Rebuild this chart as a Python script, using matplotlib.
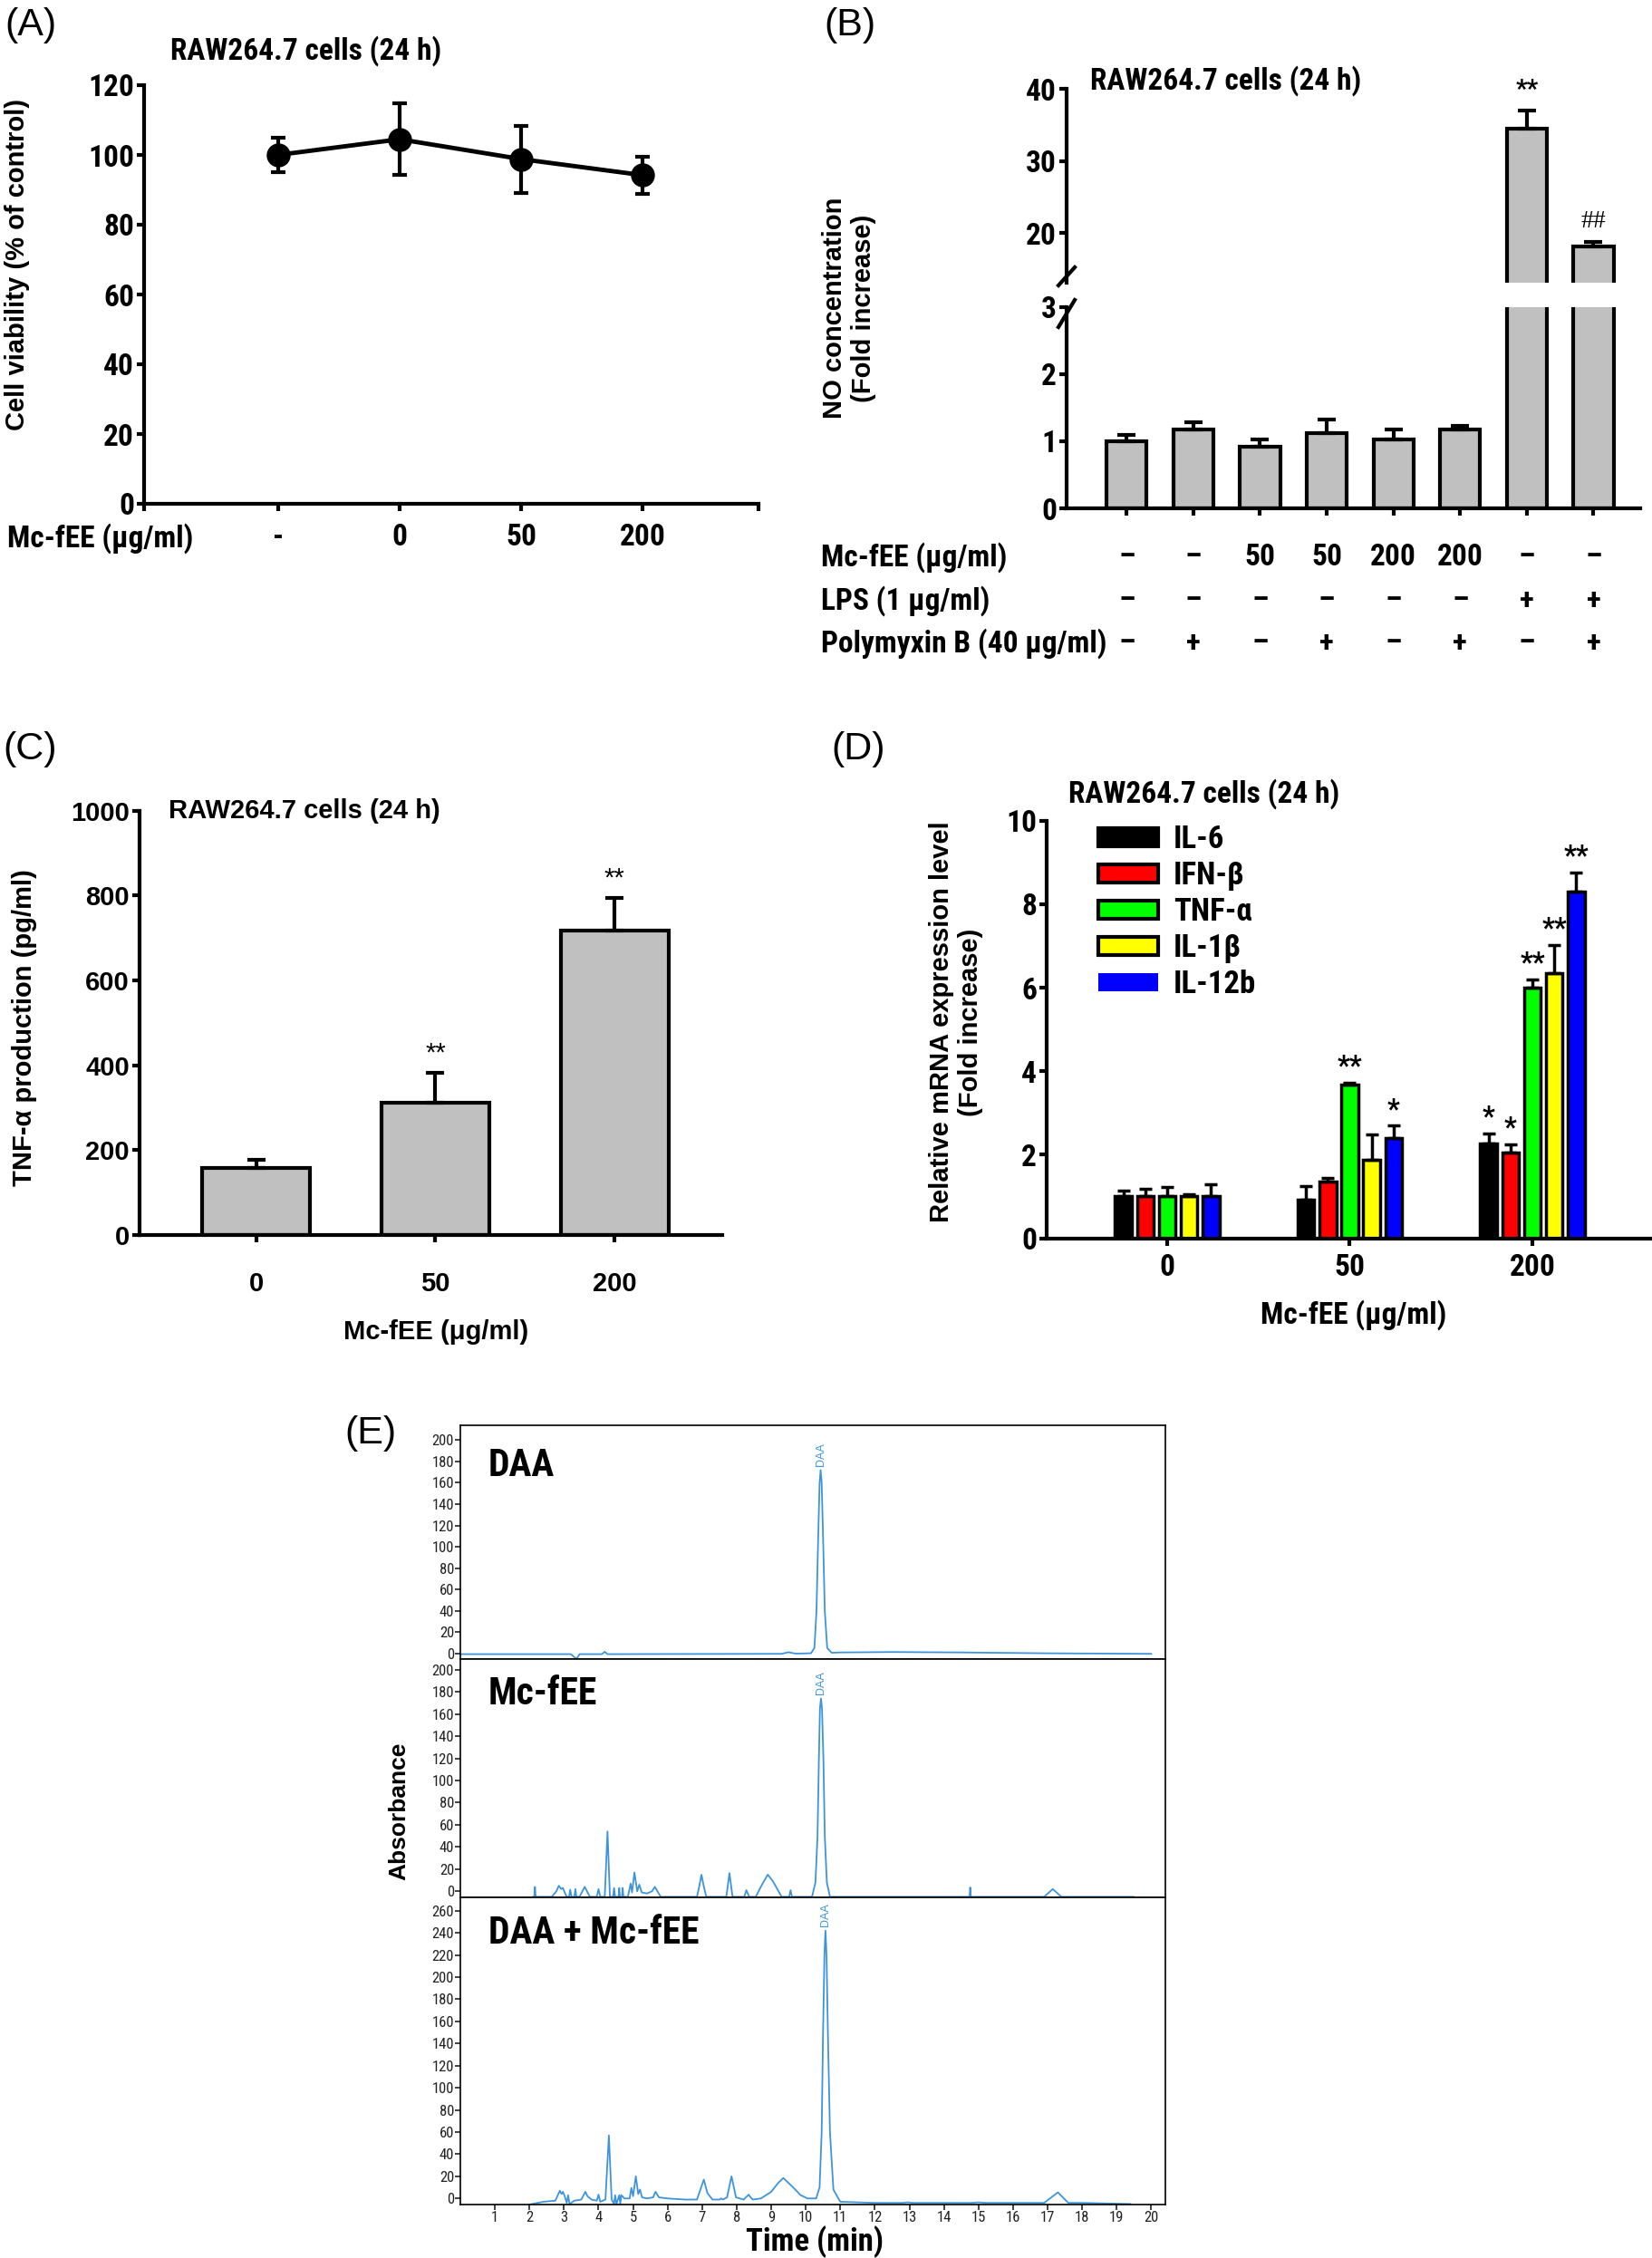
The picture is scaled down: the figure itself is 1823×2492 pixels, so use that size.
import numpy as np
import matplotlib
matplotlib.use("Agg")
import matplotlib.pyplot as plt
from matplotlib.patches import Patch
from matplotlib.lines import Line2D

W, H = 1824, 2492
NARROW = ['Roboto Condensed', 'DejaVu Sans']
ARIAL = ['Liberation Sans', 'DejaVu Sans']
SERIF = ['Liberation Serif', 'DejaVu Serif']

plt.rcParams['font.family'] = NARROW
plt.rcParams['font.weight'] = 'bold'

# (A) cell viability
a_labels = ['-', '0', '50', '200']
a_mean = [100.0, 104.5, 98.8, 94.2]
a_err = [5.0, 10.2, 9.6, 5.4]

# (B) NO production
b_mean = [1.0, 1.17, 0.92, 1.12, 1.03, 1.17, 34.5, 18.2]
b_err = [0.09, 0.11, 0.10, 0.20, 0.14, 0.06, 2.6, 0.6]
b_rows = ['Mc-fEE (μg/ml)', 'LPS (1 μg/ml)', 'Polymyxin B (40 μg/ml)']
b_mcfee = ['–', '–', '50', '50', '200', '200', '–', '–']
b_lps = ['–', '–', '–', '–', '–', '–', '+', '+']
b_pmb = ['–', '+', '–', '+', '–', '+', '–', '+']
b_marks = ['', '', '', '', '', '', '**', '##']

# (C) TNF-a production
c_labels = ['0', '50', '200']
c_mean = [158, 312, 718]
c_err = [20, 71, 77]
c_marks = ['', '**', '**']

# (D) mRNA expression
d_labels = ['0', '50', '200']
d_genes = ['IL-6', 'IFN-β', 'TNF-α', 'IL-1β', 'IL-12b']
d_colors = ['#000000', '#ff0000', '#00ff00', '#ffff00', '#0000ff']
d_mean = [[1.0, 0.92, 2.27], [1.0, 1.36, 2.05], [1.0, 3.67, 6.01],
          [1.0, 1.88, 6.35], [1.0, 2.40, 8.29]]
d_err = [[0.13, 0.32, 0.24], [0.19, 0.08, 0.20], [0.22, 0.06, 0.19],
         [0.06, 0.61, 0.68], [0.30, 0.30, 0.47]]
d_marks = [['', '', '*'], ['', '', '*'], ['', '**', '**'],
           ['', '', '**'], ['', '*', '**']]

# (E) HPLC traces, (time min, absorbance) vertices
e_names = ['DAA', 'Mc-fEE', 'DAA + Mc-fEE']
e1_trace = [(0.0, -0.8), (3.20, -0.8), (3.33, -4.5), (3.37, -5.0), (3.45, -0.8), (4.10, -0.8),
            (4.18, 1.5), (4.26, -0.8), (9.30, -0.5), (9.50, 1.0), (9.70, -0.3), (10.15, 0.0),
            (10.25, 5), (10.31, 40), (10.36, 110), (10.40, 160), (10.43, 172), (10.46, 160),
            (10.50, 110), (10.55, 40), (10.62, 5), (10.75, 0.5), (11.0, 0.8), (12.5, 1.2),
            (14.5, 0.8), (17.0, 0.0), (20.0, -0.5)]
e2_trace = [(2.10, -5), (2.14, -5), (2.16, 4), (2.18, -5),
            (2.65, -5), (2.78, 0), (2.85, 5), (2.92, 2), (2.97, 3), (3.02, -1), (3.08, -5),
            (3.15, -5), (3.18, 1.5), (3.22, -5), (3.30, -5), (3.33, 2), (3.36, -5),
            (3.45, -5), (3.60, 4), (3.75, -5), (3.95, -5), (4.00, 2), (4.05, -5),
            (4.18, -5), (4.26, 54), (4.33, -5),
            (4.42, -5), (4.45, 3), (4.48, -5), (4.58, -5), (4.60, 3), (4.62, -5), (4.68, -5), (4.70, 3), (4.72, -5),
            (4.85, -5), (4.93, 7), (4.97, -1), (5.04, 17), (5.12, 0), (5.18, 6), (5.25, -1), (5.40, -2),
            (5.55, 0), (5.63, 4), (5.80, -5),
            (6.85, -5), (6.92, 5), (6.98, 15), (7.05, 4), (7.12, -5),
            (7.70, -5), (7.79, 16.5), (7.88, -5),
            (8.22, -5), (8.28, 1), (8.36, -5),
            (8.55, -5), (8.75, 7), (8.90, 15), (9.05, 9), (9.30, -5),
            (9.52, -5), (9.56, 1), (9.60, -5),
            (10.18, -5), (10.28, 8), (10.34, 50), (10.38, 120), (10.41, 165), (10.44, 174), (10.47, 165),
            (10.51, 120), (10.55, 50), (10.61, 8), (10.70, -5),
            (14.74, -5), (14.76, 3.5), (14.78, -5),
            (16.90, -5), (17.15, 2), (17.40, -5), (19.50, -5)]
e3_trace = [(2.00, -5.5), (2.40, -3), (2.75, -2), (2.88, 7), (2.93, 4), (2.97, 6), (3.02, 2), (3.08, -4),
            (3.12, 3), (3.16, -5), (3.30, -2), (3.50, -1), (3.62, 6), (3.68, 2), (3.80, -1), (3.95, -2),
            (4.00, 3.5), (4.05, -3), (4.20, -1), (4.30, 57), (4.38, -1), (4.45, -5), (4.48, 3), (4.52, -5),
            (4.60, 3), (4.63, -5), (4.66, 3), (4.75, 0), (4.90, 0), (4.95, 9.5), (5.00, 2), (5.08, 20),
            (5.15, 4), (5.20, 8), (5.26, 1), (5.40, 0), (5.58, 1), (5.65, 6), (5.75, 1), (6.00, 0),
            (6.50, -1), (6.85, -1), (6.97, 10), (7.05, 17), (7.15, 5), (7.30, -1), (7.50, -1), (7.55, 0),
            (7.60, -1), (7.72, 1), (7.85, 20), (7.98, 1), (8.20, -1), (8.35, 3.5), (8.40, 1), (8.47, -1),
            (8.70, 0), (9.00, 6), (9.20, 14), (9.35, 18.5), (9.50, 14), (9.65, 9.5), (9.85, 3), (10.05, 0),
            (10.30, 0), (10.40, 10), (10.46, 60), (10.50, 150), (10.54, 220), (10.57, 242), (10.60, 220),
            (10.64, 150), (10.70, 60), (10.80, 8), (11.00, -3), (12.00, -4), (12.80, -4), (12.95, -3.5),
            (13.10, -4), (14.80, -4), (15.00, -3.5), (15.20, -4), (16.90, -4), (17.30, 5.5), (17.60, -4),
            (18.00, -4), (19.40, -5)]

fig = plt.figure(figsize=(W / 100, H / 100), dpi=100)


def axes_px(x0, y0, x1, y1):
    return fig.add_axes([x0 / W, 1 - y1 / H, (x1 - x0) / W, (y1 - y0) / H])


def ftext(x, y, s, **kw):
    return fig.text(x / W, 1 - y / H, s, **kw)


def style(ax, lw=3, fs=24, fam=NARROW):
    for s in ['top', 'right']:
        ax.spines[s].set_visible(False)
    for s in ['left', 'bottom']:
        ax.spines[s].set_linewidth(lw)
    ax.tick_params(width=lw, length=6, direction='out', labelsize=fs)
    ax.tick_params(axis='y', pad=2)
    for lab in ax.get_xticklabels() + ax.get_yticklabels():
        lab.set_family(fam)
        lab.set_weight('bold')


# ---------------- (A)
ftext(5, 8, '(A)', family=ARIAL, weight='normal', fontsize=31, va='top')
axA = axes_px(159, 94, 837, 556)
xa = np.arange(len(a_mean))
axA.errorbar(xa, a_mean, yerr=a_err, fmt='-o', color='k', lw=3.5, ms=18,
             elinewidth=3, capsize=6, capthick=3, clip_on=False)
axA.set_xlim(-1.1, 3.95)
axA.set_ylim(0, 120)
axA.set_yticks(np.arange(0, 121, 20))
axA.set_xticks([-1.1, 0, 1, 2, 3, 3.95], [''] + a_labels + [''])
style(axA)
axA.tick_params(axis='x', pad=9)
ftext(188, 56, 'RAW264.7 cells (24 h)', fontsize=24, va='center')
ftext(8, 594, 'Mc-fEE (μg/ml)', fontsize=24, va='center')
ftext(19, 292, 'Cell viability (% of control)', family=ARIAL, fontsize=21,
      rotation=90, ha='center', va='center')

# ---------------- (B)
ftext(909, 8, '(B)', family=ARIAL, weight='normal', fontsize=31, va='top')
xb = np.arange(len(b_mean))
axBu = axes_px(1177, 98.5, 1810, 312)
axBl = axes_px(1177, 338.5, 1810, 561)
for ax in (axBu, axBl):
    ax.bar(xb, b_mean, width=0.6, color='#c0c0c0', edgecolor='k', lw=3)
    ax.errorbar(xb, b_mean, yerr=[np.zeros(len(b_err)), b_err], fmt='none', ecolor='k',
                elinewidth=3, capsize=7, capthick=3)
    ax.set_xlim(-0.9, 7.7)
axBu.set_ylim(13.1, 40)
axBu.set_yticks([20, 30, 40])
axBu.set_xticks([])
axBl.set_ylim(0, 3)
axBl.set_yticks([0, 1, 2, 3])
axBl.set_xticks(xb, [''] * len(xb))
style(axBu)
style(axBl)
axBu.spines['bottom'].set_visible(False)
for i, m in enumerate(b_marks):
    if m:
        axBu.annotate(m, (xb[i], b_mean[i] + b_err[i]), xytext=(0, 16), textcoords='offset points',
                      ha='center', va='center', fontsize=20,
                      family=SERIF if m == '##' else NARROW,
                      weight='normal' if m == '##' else 'bold')
for cx, cy, dx, dy in [(1177, 305, 9, 10), (1177, 346, 9, 15)]:
    fig.add_artist(Line2D([(cx - dx) / W, (cx + dx) / W], [1 - (cy + dy) / H, 1 - (cy - dy) / H],
                          color='k', lw=3))
row_y = [615, 663, 710]
for txt, vals, ry in zip(b_rows, [b_mcfee, b_lps, b_pmb], row_y):
    ftext(906, ry, txt, fontsize=24, va='center')
    for x, v in zip(xb, vals):
        axBl.text(x, (561 - ry) / (561 - 338.5), v, transform=axBl.get_xaxis_transform(),
                  ha='center', va='center', fontsize=24)
ftext(1203, 89, 'RAW264.7 cells (24 h)', fontsize=24, va='center')
ftext(937, 340, 'NO concentration\n(Fold increase)', family=ARIAL, fontsize=21,
      rotation=90, ha='center', va='center', multialignment='center')

# ---------------- (C)
ftext(3, 807, '(C)', family=ARIAL, weight='normal', fontsize=31, va='top')
axC = axes_px(154, 894.6, 797, 1363)
xc = np.arange(len(c_mean))
axC.bar(xc, c_mean, width=0.6, color='#c0c0c0', edgecolor='k', lw=3)
axC.errorbar(xc, c_mean, yerr=[np.zeros(len(c_err)), c_err], fmt='none', ecolor='k',
             elinewidth=3, capsize=7, capthick=3)
axC.set_xlim(-0.65, 2.6)
axC.set_ylim(0, 1000)
axC.set_yticks(np.arange(0, 1001, 200))
axC.set_xticks(xc, c_labels)
style(axC, fs=21, fam=ARIAL)
axC.tick_params(axis='x', pad=23)
for i, m in enumerate(c_marks):
    if m:
        axC.annotate(m, (xc[i], c_mean[i] + c_err[i]), xytext=(0, 15), textcoords='offset points',
                     ha='center', va='center', fontsize=21, family=ARIAL, weight='normal')
ftext(186, 895, 'RAW264.7 cells (24 h)', family=ARIAL, fontsize=21, va='center')
ftext(481, 1470, 'Mc-fEE (μg/ml)', family=ARIAL, fontsize=21, ha='center', va='center')
ftext(27, 1134, 'TNF-α production (pg/ml)', family=ARIAL, fontsize=21,
      rotation=90, ha='center', va='center')

# ---------------- (D)
ftext(917, 807, '(D)', family=ARIAL, weight='normal', fontsize=31, va='top')
axD = axes_px(1155, 905.7, 1824, 1366.5)
xd = np.arange(len(d_labels))
bw = 0.12
handles = []
for k, gene in enumerate(d_genes):
    pos = xd + (k - 2) * bw
    axD.bar(pos, d_mean[k], width=0.092, color=d_colors[k], edgecolor='k', lw=2.5)
    axD.errorbar(pos, d_mean[k], yerr=[np.zeros(3), d_err[k]], fmt='none', ecolor='k',
                 elinewidth=2.5, capsize=5, capthick=2.5)
    for j, m in enumerate(d_marks[k]):
        if m:
            axD.annotate(m, (pos[j], d_mean[k][j] + d_err[k][j]), xytext=(0, 13),
                         textcoords='offset points', ha='center', va='center', fontsize=22)
    if gene == 'IL-12b':
        handles.append(Patch(facecolor=d_colors[k], edgecolor='none', label=gene))
    else:
        handles.append(Patch(facecolor=d_colors[k], edgecolor='k', lw=3, label=gene))
axD.set_xlim(-0.66, 2.66)
axD.set_ylim(0, 10)
axD.set_yticks(np.arange(0, 11, 2))
axD.set_xticks(xd, d_labels)
style(axD)
axD.tick_params(axis='x', pad=6)
axD.legend(handles=handles, loc='upper left', bbox_to_anchor=(0.085, 0.99), frameon=False,
           fontsize=25, handlelength=1.9, handleheight=0.5, labelspacing=0.2,
           handletextpad=0.5, borderpad=0, borderaxespad=0)
ftext(1179, 876, 'RAW264.7 cells (24 h)', fontsize=24, va='center')
ftext(1494, 1451, 'Mc-fEE (μg/ml)', fontsize=24, ha='center', va='center')
ftext(1055, 1128, 'Relative mRNA expression level\n(Fold increase)', family=ARIAL, fontsize=21,
      rotation=90, ha='center', va='center', multialignment='center')

# ---------------- (E)
ftext(380, 1562, '(E)', family=ARIAL, weight='normal', fontsize=31, va='top')
blue = '#3d94dc'
e_traces = [e1_trace, e2_trace, e3_trace]
e_boxes = [(1573, 1830.5), (1830.5, 2094), (2094, 2433)]
e_ylims = [(-5, 214), (-5.5, 210), (-5.5, 272)]
e_ytop = [200, 200, 260]
e_textys = [176, 178, 240]
for i in range(3):
    ax = axes_px(508, e_boxes[i][0], 1286, e_boxes[i][1])
    tr = np.array(e_traces[i])
    ax.plot(tr[:, 0], tr[:, 1], color=blue, lw=1.3)
    k = np.argmax(tr[:, 1])
    ax.text(tr[k, 0], tr[k, 1] + 4, 'DAA', rotation=90, color=blue, fontsize=9,
            weight='normal', family=ARIAL, ha='center', va='bottom')
    ax.text(0.81, e_textys[i], e_names[i], fontsize=30, va='center', ha='left')
    ax.set_xlim(0, 20.41)
    ax.set_ylim(*e_ylims[i])
    ax.set_yticks(np.arange(0, e_ytop[i] + 1, 20))
    for s in ax.spines.values():
        s.set_linewidth(1.2)
    ax.tick_params(length=4, width=1.2, labelsize=12, pad=1, colors='#222222')
    ax.set_xticks(np.arange(1, 21))
    if i == 0:
        ax.tick_params(axis='x', bottom=False, labelbottom=False)
    elif i == 1:
        ax.tick_params(axis='x', labelbottom=False)
    for lab in ax.get_xticklabels() + ax.get_yticklabels():
        lab.set_weight('normal')
ftext(899, 2474, 'Time (min)', fontsize=25, ha='center', va='center')
ftext(440, 1999, 'Absorbance', family=ARIAL, fontsize=19, rotation=90, ha='center', va='center')

fig.savefig('out.png', dpi=100)
